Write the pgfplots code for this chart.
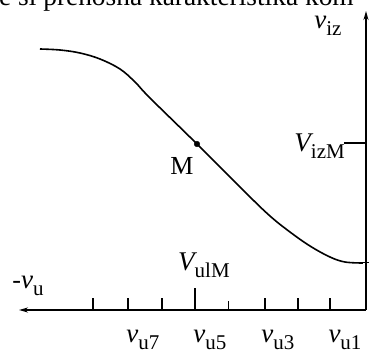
\documentclass[border=0pt]{standalone}
\usepackage{fontspec}
\setmainfont{Liberation Serif}
\usepackage{pgfplots}
\pgfplotsset{compat=1.18}
\usetikzlibrary{arrows.meta}

% italic quantity with an upright, lowered subscript
\newcommand{\qty}[2]{{\fontsize{27}{29}\selectfont\itshape #1}\raisebox{-7pt}{\fontsize{21}{24}\selectfont #2}}

\begin{document}
\begin{tikzpicture}
\useasboundingbox (-365pt,-44pt) rectangle (8pt,310pt);
\clip (-365pt,-44pt) rectangle (8pt,310pt);
\begin{axis}[
  x=1pt, y=1pt, x dir=reverse,
  xmin=-8, xmax=365, ymin=-44, ymax=310,
  hide axis, clip=false,
  anchor=origin, at={(0pt,0pt)},
]
% heading line above the diagram
\node[anchor=base west, inner sep=0pt, font=\fontsize{27.4}{30}\selectfont]
  at (axis cs:366,304) {e si prenosna karakteristika kom};

% axes: -v_u points to the left, v_iz points up
\draw[line width=1.6pt, -{Stealth[length=9pt,width=5pt]}] (axis cs:-1,0) -- (axis cs:346,0);
\draw[line width=1.6pt, -{Stealth[length=9pt,width=5pt]}] (axis cs:-1,0) -- (axis cs:-1,299);

% input voltage steps
\pgfplotsinvokeforeach{272,237,203,100,67,35}{
  \draw[line width=1.3pt] (axis cs:#1,0) -- (axis cs:#1,12);
}
\draw[line width=1pt] (axis cs:136,0) -- (axis cs:136,9);
\draw[line width=1.3pt] (axis cs:170,0) -- (axis cs:170,22);
% operating point levels on the output axis
\draw[line width=1.6pt] (axis cs:21,167) -- (axis cs:-1,167);
\draw[line width=1pt] (axis cs:3,47) -- (axis cs:-4,47);

% transfer characteristic
\addplot[smooth, tension=0.6, line width=1.6pt] coordinates {
  (325,261) (305,260) (285,257) (265,251) (245,241) (230,228)
  (215,212) (168,166) (120,118) (95,94) (75,78) (55,64)
  (35,53) (20,48) (2,47)
};
% operating point M
\addplot[only marks, mark=*, mark size=2.8pt] coordinates {(168,166)};

% labels
\node[inner sep=0pt] at (axis cs:37,284) {\qty{v}{iz}};
\node[inner sep=0pt, anchor=east] at (axis cs:20,164) {\qty{V}{izM}};
\node[inner sep=0pt] at (axis cs:161,45) {\qty{V}{ulM}};
\node[inner sep=0pt] at (axis cs:337,24) {{\fontsize{26}{28}\selectfont -}\qty{v}{u}};
\node[inner sep=0pt, font=\fontsize{26}{28}\selectfont] at (axis cs:183,144) {M};
\node[inner sep=0pt] at (axis cs:222,-30) {\qty{v}{u7}};
\node[inner sep=0pt] at (axis cs:155,-30) {\qty{v}{u5}};
\node[inner sep=0pt] at (axis cs:87,-30) {\qty{v}{u3}};
\node[inner sep=0pt] at (axis cs:20,-30) {\qty{v}{u1}};
\end{axis}
\end{tikzpicture}
\end{document}
